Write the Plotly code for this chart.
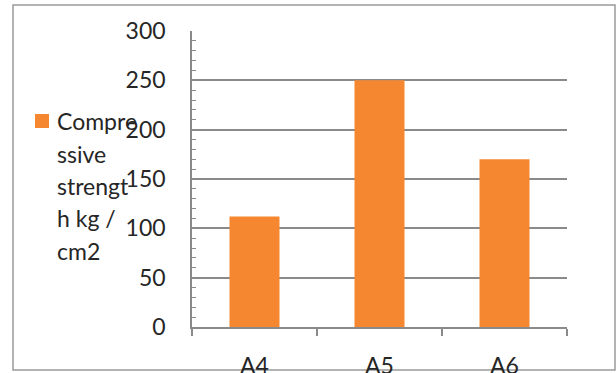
import plotly.graph_objects as go

# Compressive strength of mixes A4-A6
categories = ["A4", "A5", "A6"]
strength = [112, 250, 170]
series_name = "Compressive strength kg / cm2"
legend_lines = ["Compre", "ssive", "strengt", "h kg /", "cm2"]
y_ticks = [0, 50, 100, 150, 200, 250, 300]

ORANGE = "#F4872F"
GRID = "#8a8a8a"
TEXT = "#262626"
FONT = "Lato"
FSIZE = 23

W, H = 616, 373
L, R, T, B = 192, 49, 31, 46
PW, PH = W - L - R, H - T - B


def px_x(x):
    return (x - L) / PW


def px_y(y):
    return (H - B - y) / PH


fig = go.Figure(
    go.Bar(
        x=categories,
        y=strength,
        name=series_name,
        marker=dict(color=ORANGE, line=dict(width=0)),
        width=0.4,
        showlegend=False,
    )
)

# outer chart frame
fig.add_shape(
    type="rect", xref="paper", yref="paper",
    x0=px_x(13), x1=px_x(615), y0=px_y(370), y1=px_y(5),
    line=dict(color="#9a9a9a", width=1.5), layer="below",
)

# legend: swatch plus wrapped label
fig.add_shape(
    type="rect", xref="paper", yref="paper",
    x0=px_x(35), x1=px_x(49), y0=px_y(128), y1=px_y(114),
    fillcolor=ORANGE, line=dict(width=0),
)
for i, line in enumerate(legend_lines):
    fig.add_annotation(
        text=line, xref="paper", yref="paper",
        x=px_x(55), y=px_y(121.5 + 32.3 * i),
        xanchor="left", yanchor="middle", showarrow=False,
        font=dict(family=FONT, size=FSIZE, color=TEXT),
    )

fig.update_layout(
    width=W, height=H,
    margin=dict(l=L, r=R, t=T, b=B, pad=0, autoexpand=False),
    paper_bgcolor="white", plot_bgcolor="white",
    bargap=0.6,
)
fig.update_yaxes(
    automargin=False,
    range=[0, 300], tickvals=y_ticks,
    showgrid=True, gridcolor=GRID, gridwidth=1.5,
    zeroline=False,
    showline=True, linecolor=GRID, linewidth=1.5,
    ticks="inside", ticklen=4, tickcolor=GRID, tickwidth=1,
    minor=dict(dtick=10, ticks="inside", ticklen=4, tickcolor=GRID, tickwidth=1, showgrid=False),
    tickfont=dict(family=FONT, size=FSIZE, color=TEXT),
    ticklabelstandoff=20,
)
fig.update_xaxes(
    automargin=False,
    type="category",
    showgrid=False, showline=True, linecolor=GRID, linewidth=1.5,
    ticks="outside", tickson="boundaries", ticklen=7, tickcolor=GRID, tickwidth=1.5,
    tickfont=dict(family=FONT, size=FSIZE, color=TEXT),
    ticklabelstandoff=18,
)

fig.write_html("out.html")
